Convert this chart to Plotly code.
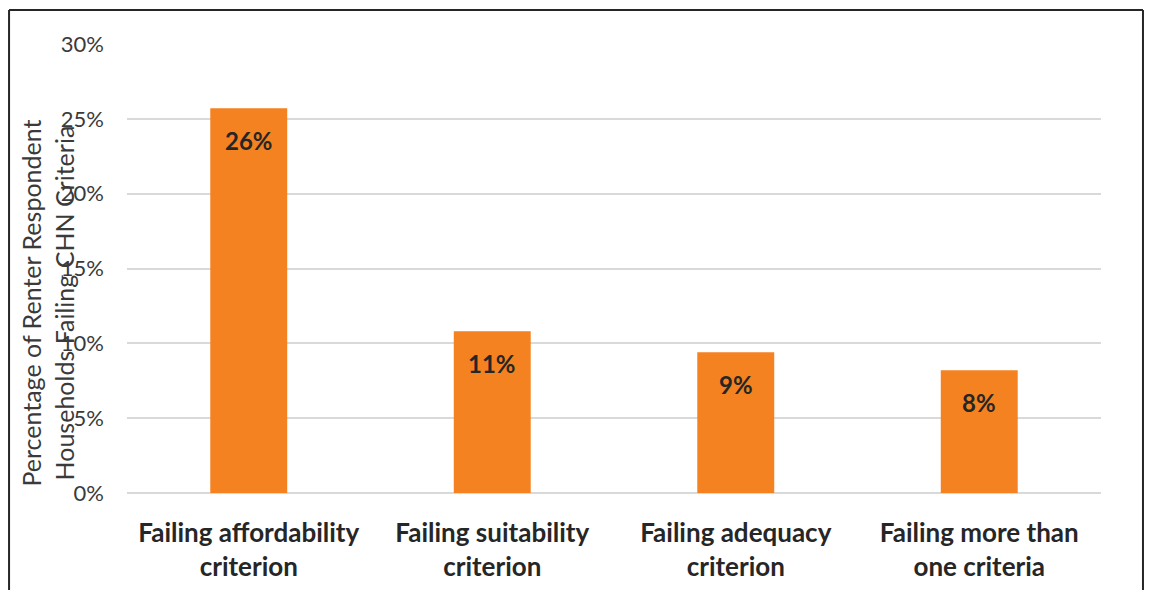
import plotly.graph_objects as go

# Share of renter respondent households failing each Core Housing Need criterion
categories = [
    "Failing affordability<br>criterion",
    "Failing suitability<br>criterion",
    "Failing adequacy<br>criterion",
    "Failing more than<br>one criteria",
]
shares = [0.257, 0.108, 0.094, 0.082]
tick_values = [0, 0.05, 0.10, 0.15, 0.20, 0.25, 0.30]
tick_labels = ["0%", "5%", "10%", "15%", "20%", "25%", "30%"]

BAR_COLOR = "#F58220"
TEXT_DARK = "#262626"
FONT = "Lato"

fig = go.Figure(
    go.Bar(
        x=categories,
        y=shares,
        marker=dict(color=BAR_COLOR, line=dict(width=0)),
        hoverinfo="skip",
    )
)

# Value labels sit just below the top of each bar
for cat, val in zip(categories, shares):
    fig.add_annotation(
        x=cat, y=val, xref="x", yref="y",
        text=f"<b>{val:.0%}</b>",
        showarrow=False, yanchor="middle", yshift=-32,
        font=dict(family=FONT, size=24, color=TEXT_DARK),
    )

# Two-line vertical axis title
fig.add_annotation(
    x=-0.0816, y=0.423, xref="paper", yref="paper",
    text="Percentage of Renter Respondent<br>Households Failing CHN Criteria",
    textangle=-90, showarrow=False, xanchor="center", yanchor="middle",
    font=dict(family=FONT, size=25, color="#3A3A3A"),
)

# Outer frame around the chart
frame = dict(type="line", xref="paper", yref="paper",
             line=dict(color="#262626", width=2))
fig.add_shape(**frame, x0=-0.1211, x1=-0.1211, y0=-0.3, y1=1.0757)
fig.add_shape(**frame, x0=1.0431, x1=1.0431, y0=-0.3, y1=1.0757)
fig.add_shape(**frame, x0=-0.1211, x1=1.0431, y0=1.0757, y1=1.0757)

fig.update_layout(
    width=1154, height=590,
    margin=dict(l=127, r=53, t=44, b=97),
    paper_bgcolor="white", plot_bgcolor="white",
    bargap=0.684,
    showlegend=False,
    font=dict(family=FONT, color="#3A3A3A"),
    xaxis=dict(
        automargin=False,
        showgrid=False, showline=False, zeroline=False,
        ticks="", ticklabelstandoff=22,
        tickfont=dict(family=FONT, size=26, color=TEXT_DARK, weight="bold"),
    ),
    yaxis=dict(
        automargin=False,
        range=[0, 0.3], tickvals=tick_values, ticktext=tick_labels,
        showgrid=True, gridcolor="#D9D9D9", gridwidth=1.5,
        zeroline=True, zerolinecolor="#D9D9D9", zerolinewidth=1.5,
        showline=False, ticks="", ticklabelstandoff=22,
        tickfont=dict(family=FONT, size=22, color="#3A3A3A"),
    ),
)

fig.write_html("out.html")
